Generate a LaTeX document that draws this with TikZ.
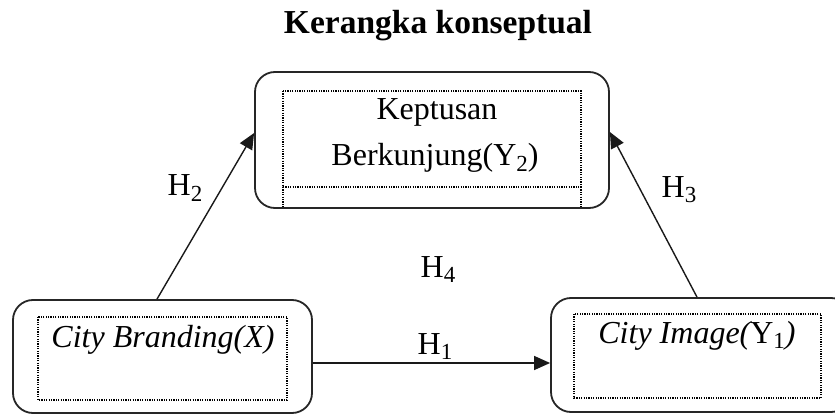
\documentclass[tikz,border=0pt]{standalone}
\usepackage{fontspec}
\setmainfont{Liberation Serif}
\usetikzlibrary{arrows.meta}
\newcommand{\lowidx}[1]{\raisebox{-0.17em}{\fontsize{23}{23}\selectfont #1}}
\begin{document}
\begin{tikzpicture}[x=1pt,y=-1pt,
  outerbox/.style={draw=black!85, line width=1.8pt, rounded corners=20pt, inner sep=0pt},
  innerbox/.style={draw=black, line width=1.2pt, dash pattern=on 1.2pt off 1.2pt},
  txt/.style={font=\fontsize{32}{38}\selectfont, anchor=base, inner sep=0pt},
  lbl/.style={font=\fontsize{32}{38}\selectfont, anchor=base, inner sep=0pt},
  arr/.style={draw=black!90, line width=1.4pt, -{Triangle[length=16pt,width=14pt]}}]
\useasboundingbox (0,0) rectangle (835,414);
\clip (0,0) rectangle (835,414);
% title
\node[anchor=base, inner sep=0pt, font=\fontsize{33.5}{40}\selectfont\bfseries] (title) at (438,34) {Kerangka konseptual};
% outer boxes
\node[outerbox, minimum width=354pt, minimum height=136pt] (T) at (432,140) {};
\node[outerbox, minimum width=299pt, minimum height=113pt] (L) at (162.5,356.5) {};
\node[outerbox, minimum width=300pt, minimum height=114pt] (R) at (701,355) {};
% inner dotted boxes
\draw[innerbox] (283,91) rectangle (581,187);
\draw[innerbox] (283,187) -- (283,208);
\draw[innerbox] (581,187) -- (581,208);
\draw[innerbox] (38,317) rectangle (287,400);
\draw[innerbox] (574,314) rectangle (821,398);
% texts
\node[txt] (t1) at (437,120) {Keptusan};
\node[txt] (t2) at (435,166) {Berkunjung(Y\lowidx{2})};
\node[txt] (l1) at (163,347) {\itshape City Branding(X)};
\node[txt] (r1) at (697,343) {\itshape City Image(\upshape Y\lowidx{1}\itshape)};
% connectors
\draw[arr] ([yshift=-6.5pt]L.east) -- ([yshift=-6.5pt]L.east -| R.west);
\draw[arr] ([xshift=-5.5pt]L.north) -- ([yshift=7pt]T.west);
\draw[arr] ([xshift=-4pt]R.north) -- ([yshift=8pt]T.east);
% labels
\node[lbl] (h1) at (435,354) {H\lowidx{1}};
\node[lbl] (h2) at (185,196) {H\lowidx{2}};
\node[lbl] (h3) at (679,197) {H\lowidx{3}};
\node[lbl] (h4) at (438,277) {H\lowidx{4}};
\end{tikzpicture}
\end{document}
